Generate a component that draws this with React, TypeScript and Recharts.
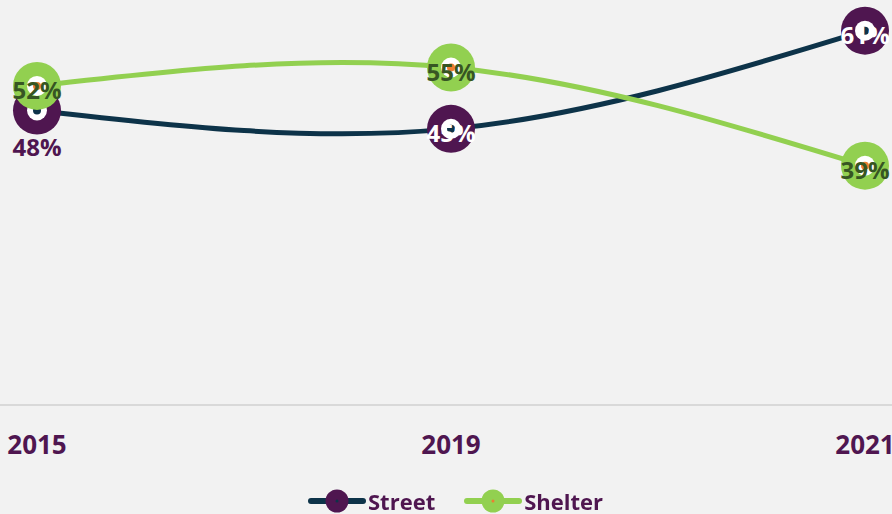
import { LabelList, Legend, Line, LineChart, XAxis, YAxis } from "recharts";

const years = ["2015", "2019", "2021"];
const street = [48, 45, 61];
const shelter = [52, 55, 39];

const data = years.map((year, i) => ({ year, street: street[i], shelter: shelter[i] }));

const FONT = "'Open Sans', 'Noto Sans', sans-serif";
const PURPLE = "#4f1650";
const NAVY = "#0d3349";
const GREEN = "#92d050";
const ORANGE = "#ed7d31";
const DARK_GREEN = "#375623";

function makeDot(ring: string, core: string) {
  return (props: any) => {
    const { cx, cy, index } = props;
    if (cx == null || cy == null) return null;
    return (
      <g key={`dot-${ring}-${index}`}>
        <circle cx={cx} cy={cy} r={24} fill={ring} />
        <circle cx={cx} cy={cy} r={10} fill="#ffffff" />
        <circle cx={cx} cy={cy} r={4} fill={core} />
      </g>
    );
  };
}

function streetLabel(props: any) {
  const { x, y, value, index } = props;
  const below = index === 0;
  return (
    <text
      x={x}
      y={below ? y + 36 : y + 4}
      textAnchor="middle"
      dominantBaseline="central"
      fill={below ? PURPLE : "#ffffff"}
      fontFamily={FONT}
      fontWeight={700}
      fontSize={24}
    >
      {value}%
    </text>
  );
}

function shelterLabel(props: any) {
  const { x, y, value } = props;
  return (
    <text
      x={x}
      y={y + 4}
      textAnchor="middle"
      dominantBaseline="central"
      fill={DARK_GREEN}
      fontFamily={FONT}
      fontWeight={700}
      fontSize={24}
    >
      {value}%
    </text>
  );
}

function YearTick(props: any) {
  const { x, y, payload } = props;
  return (
    <text
      x={x}
      y={y + 31}
      textAnchor="middle"
      dominantBaseline="central"
      fill={PURPLE}
      fontFamily={FONT}
      fontWeight={700}
      fontSize={26}
    >
      {payload.value}
    </text>
  );
}

function LegendIcon({ line, ring, core }: { line: string; ring: string; core: string }) {
  return (
    <svg width={58} height={26} style={{ display: "block" }}>
      <line x1={3} y1={13} x2={55} y2={13} stroke={line} strokeWidth={6} strokeLinecap="round" />
      <circle cx={29} cy={13} r={11.5} fill={ring} />
      <circle cx={29} cy={13} r={1.5} fill={core} />
    </svg>
  );
}

function ChartLegend() {
  const items = [
    { name: "Street", line: NAVY, ring: PURPLE, core: NAVY },
    { name: "Shelter", line: GREEN, ring: GREEN, core: ORANGE },
  ];
  return (
    <div style={{ display: "flex", justifyContent: "center", alignItems: "center", gap: 29, paddingLeft: 19, height: 26 }}>
      {items.map((it) => (
        <div key={it.name} style={{ display: "flex", alignItems: "center", gap: 2 }}>
          <LegendIcon line={it.line} ring={it.ring} core={it.core} />
          <span style={{ color: PURPLE, fontFamily: FONT, fontWeight: 700, fontSize: 22, lineHeight: "26px" }}>
            {it.name}
          </span>
        </div>
      ))}
    </div>
  );
}

export default function App() {
  return (
    <div style={{ position: "fixed", left: 0, top: 0, width: 892, height: 514, background: "#f2f2f2" }}>
      <LineChart width={892} height={514} data={data} margin={{ top: 0, right: 0, bottom: 0, left: 0 }}>
        <XAxis
          dataKey="year"
          axisLine={{ stroke: "#d9d9d9", strokeWidth: 2 }}
          tickLine={false}
          tick={<YearTick />}
          height={83}
          interval={0}
          padding={{ left: 37, right: 27 }}
        />
        <YAxis hide domain={[0, 66]} />
        <Legend verticalAlign="bottom" height={26} content={<ChartLegend />} />
        <Line
          type="natural"
          dataKey="street"
          stroke={NAVY}
          strokeWidth={5}
          dot={makeDot(PURPLE, NAVY)}
          activeDot={false}
          isAnimationActive={false}
        >
          <LabelList dataKey="street" content={streetLabel} />
        </Line>
        <Line
          type="natural"
          dataKey="shelter"
          stroke={GREEN}
          strokeWidth={5}
          dot={makeDot(GREEN, ORANGE)}
          activeDot={false}
          isAnimationActive={false}
        >
          <LabelList dataKey="shelter" content={shelterLabel} />
        </Line>
      </LineChart>
    </div>
  );
}
